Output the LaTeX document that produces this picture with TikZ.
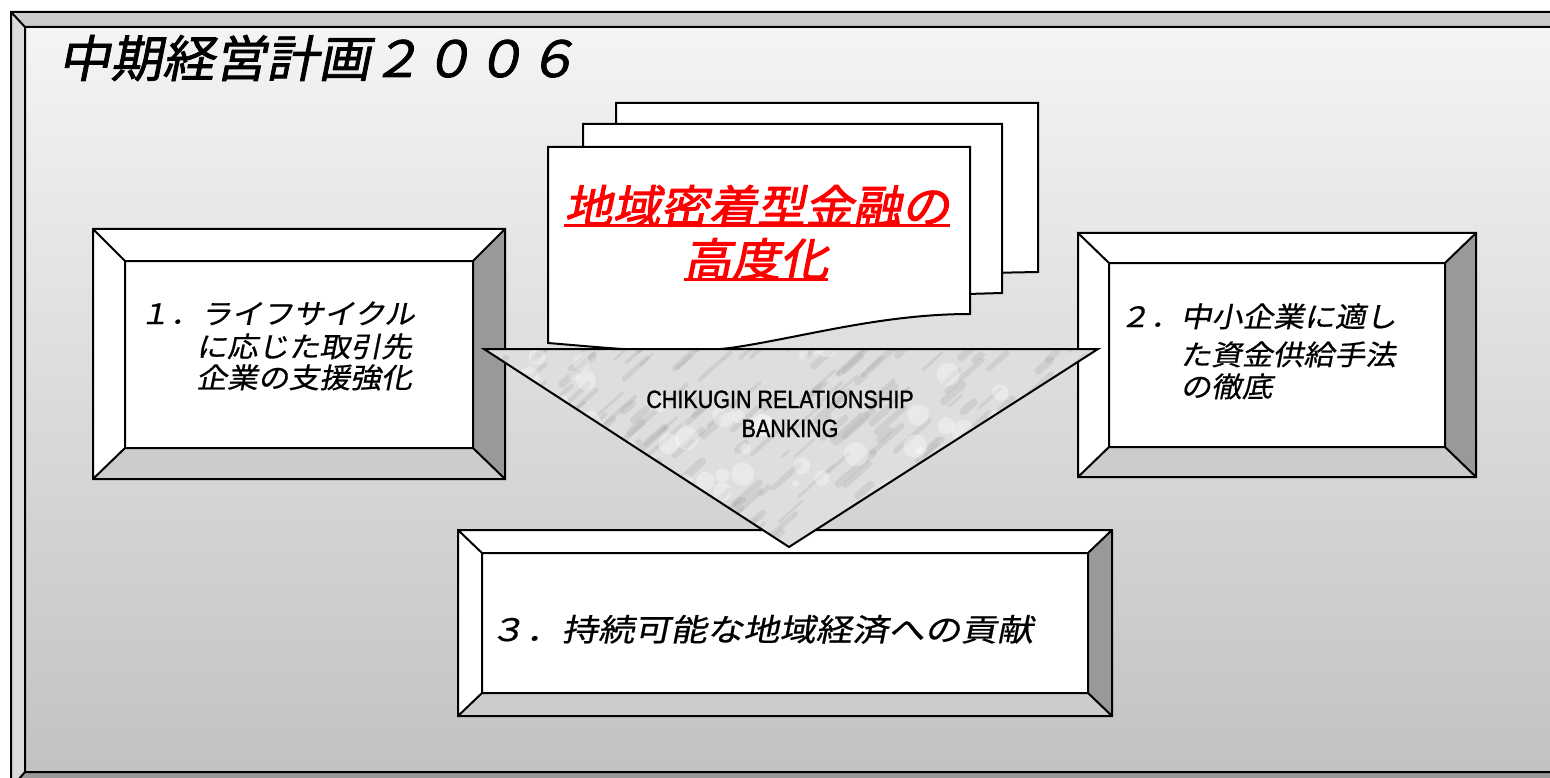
\documentclass[tikz,border=0pt]{standalone}
\usepackage{fontspec}
\setmainfont{Liberation Sans}
\newfontfamily\jptitle[FakeSlant=0.2,FakeStretch=1.04,FakeBold=1.5]{Noto Sans CJK JP}
\newfontfamily\jpbox[FakeSlant=0.2,FakeStretch=1.1,FakeBold=0.6]{Noto Sans CJK JP}
\newfontfamily\jpwide[FakeSlant=0.2,FakeStretch=1.17,FakeBold=0.6]{Noto Sans CJK JP}
\newfontfamily\jpred[FakeSlant=0.2,FakeStretch=1.07,FakeBold=2.2]{Noto Sans CJK JP}
\newfontfamily\narrowsf[FakeStretch=0.86,FakeBold=1.2]{Liberation Sans}
\usetikzlibrary{positioning}

\definecolor{bevdark}{HTML}{999999}
\definecolor{bevmid}{HTML}{CCCCCC}
\definecolor{bevlight}{HTML}{DCDCDC}
\definecolor{facetop}{HTML}{F4F4F4}
\definecolor{facebot}{HTML}{C2C2C2}
\definecolor{marble}{HTML}{DEDEDE}

% outer x1,y1,x2,y2 then inner x1,y1,x2,y2
\newcommand\bevelbox[8]{%
  \fill[bevface] (#5,#6) rectangle (#7,#8);
  \fill[bevtop] (#1,#2) -- (#3,#2) -- (#7,#6) -- (#5,#6) -- cycle;
  \fill[bevleft] (#1,#2) -- (#5,#6) -- (#5,#8) -- (#1,#4) -- cycle;
  \fill[bevbot] (#1,#4) -- (#5,#8) -- (#7,#8) -- (#3,#4) -- cycle;
  \fill[bevright] (#3,#2) -- (#3,#4) -- (#7,#8) -- (#7,#6) -- cycle;
  \draw[bevline] (#1,#2) rectangle (#3,#4) (#5,#6) rectangle (#7,#8)
    (#1,#2) -- (#5,#6) (#3,#2) -- (#7,#6) (#1,#4) -- (#5,#8) (#3,#4) -- (#7,#8);
}

\begin{document}
\begin{tikzpicture}[x=1pt,y=-1pt,
  bevline/.style={draw=black,line width=2pt},
  bevtop/.style={fill=white}, bevleft/.style={fill=white},
  bevbot/.style={fill=bevmid}, bevright/.style={fill=bevdark},
  bevface/.style={fill=white},
  page/.style={fill=white,draw=black,line width=2pt},
  boxtext/.style={anchor=base west,inner sep=0pt,font=\jpbox\fontsize{28}{30}\selectfont},
  redtext/.style={anchor=base,inner sep=0pt,text=red,font=\jpred\fontsize{45}{50}\selectfont},
  uline/.style={red,line width=3pt},
  engtext/.style={anchor=base,inner sep=0pt,font=\narrowsf\fontsize{25}{30}\selectfont}]
  \useasboundingbox (0,0) rectangle (1550,778);

% frame round everything
  \begin{scope}[bevtop/.style={fill=bevmid}, bevleft/.style={fill=bevlight},
      bevbot/.style={fill=bevdark}, bevright/.style={fill=bevmid},
      bevface/.style={top color=facetop,bottom color=facebot}]
    \bevelbox{11}{12}{1566}{788}{25}{27}{1553}{772}
  \end{scope}
  \node[anchor=base west,inner sep=0pt,font=\jptitle\fontsize{50}{55}\selectfont]
    (title) at (58,77) {中期経営計画２００６};

% stacked pages
  \draw[page] (616,103) -- (1038,103) -- (1038,272) -- (616,280) -- cycle;
  \draw[page] (583,124) -- (1002,124) -- (1002,293) -- (583,305) -- cycle;
  \draw[page] (548,147) -- (970,147) -- (970,314)
    .. controls (880,314) and (800,338) .. (730,348)
    .. controls (670,355) and (610,348) .. (548,343) -- cycle;
  \node[redtext] (goalA) at (757,223) {地域密着型金融の};
  \node[redtext] (goalB) at (756,276) {高度化};
  \draw[uline] ([yshift=-3pt]goalA.base west) -- ([yshift=-3pt]goalA.base east);
  \draw[uline] ([yshift=-3pt]goalB.base west) -- ([yshift=-3pt]goalB.base east);

% three boxes
  \bevelbox{93}{229}{505}{479}{125}{261}{473}{448}
  \bevelbox{1078}{233}{1476}{477}{1109}{263}{1445}{447}
  \bevelbox{458}{530}{1112}{716}{482}{553}{1088}{693}

% marble triangle
  \coordinate (tl) at (484,349);
  \coordinate (tr) at (1098,349);
  \coordinate (tb) at (789,547);
  \begin{scope}
    \clip (tl) -- (tr) -- (tb) -- cycle;
    \fill[marble] (tl) -- (tr) -- (tb) -- cycle;
    \pgfmathsetseed{42}
    \foreach \k in {1,...,220} {
      \pgfmathsetmacro\mx{470+640*rnd}
      \pgfmathsetmacro\my{340+215*rnd}
      \pgfmathsetmacro\ml{6+30*rnd}
      \pgfmathsetmacro\mw{2+6*rnd}
      \draw[gray,opacity=0.15,line width=\mw pt,line cap=round] (\mx,\my) -- ++(\ml,-0.9*\ml);
    }
    \foreach \k in {1,...,90} {
      \pgfmathsetmacro\mx{470+640*rnd}
      \pgfmathsetmacro\my{340+215*rnd}
      \fill[white,opacity=0.35] (\mx,\my) circle (3+9*rnd);
    }
  \end{scope}
  \draw[line width=2pt] (tl) -- (tr) -- (tb) -- cycle;
  \node[engtext] (engA) at (780,408) {CHIKUGIN RELATIONSHIP};
  \node[engtext] (engB) at (790,437) {BANKING};

% box texts
  \node[boxtext] (oneA) at (139,324) {１．ライフサイクル};
  \node[boxtext] (oneB) at (196,357) {に応じた取引先};
  \node[boxtext] (oneC) at (196,388) {企業の支援強化};
  \node[boxtext] (twoA) at (1119,327) {２．中小企業に適し};
  \node[boxtext] (twoB) at (1180,365) {た資金供給手法};
  \node[boxtext] (twoC) at (1180,397) {の徹底};
  \node[anchor=base west,inner sep=0pt,font=\jpwide\fontsize{31}{33}\selectfont]
    (three) at (489,641) {３．持続可能な地域経済への貢献};
\end{tikzpicture}
\end{document}
